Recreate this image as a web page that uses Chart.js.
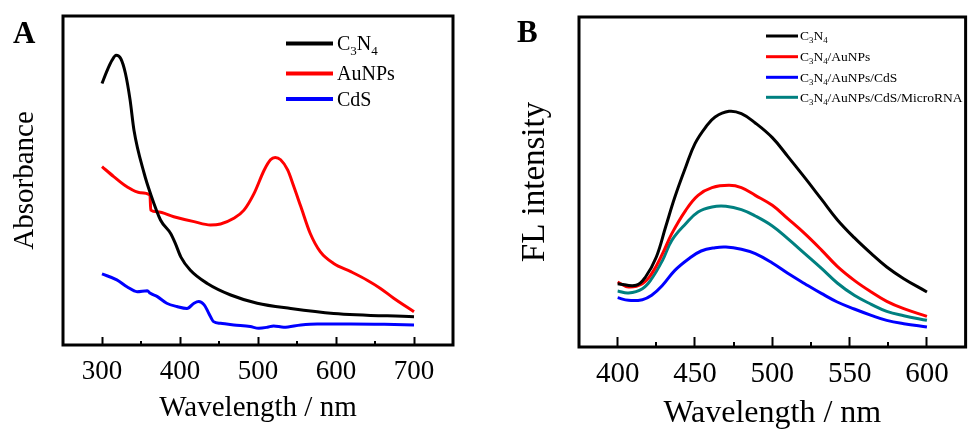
<!DOCTYPE html>
<html>
<head>
<meta charset="utf-8">
<script src="https://cdn.jsdelivr.net/npm/chart.js@4.4.1/dist/chart.umd.min.js"></script>
<style>
    html, body { margin: 0; padding: 0; background: #fff; }
    #wrap { position: relative; width: 969px; height: 433px; }
    .panel { position: absolute; top: 0; height: 433px; }
    #panelA { left: 0; width: 484px; }
    #panelB { left: 484px; width: 485px; }
</style>
</head>
<body>
<div id="wrap">
    <div class="panel" id="panelA"><canvas id="chartA"></canvas></div>
    <div class="panel" id="panelB"><canvas id="chartB"></canvas></div>
</div>
<script>
// Panel A: UV-vis absorbance (a.u.)
const aWaveC3N4 = [300, 306, 313, 318, 324, 330, 336, 341, 354, 362, 375, 388, 394, 401, 413, 435, 465, 499, 542, 597, 700]
const aAbsC3N4 = [0.795, 0.831, 0.866, 0.881, 0.871, 0.826, 0.745, 0.653, 0.522, 0.461, 0.38, 0.339, 0.309, 0.268, 0.228, 0.187, 0.152, 0.127, 0.111, 0.096, 0.086]

const aWaveAu = [300, 315, 332, 349, 361.5, 362.5, 371, 392, 418, 439, 452, 469, 482, 495, 508, 516, 522, 529, 538, 546, 555, 567, 580, 597, 619, 640, 657, 674, 700]
const aAbsAu = [0.542, 0.512, 0.481, 0.463, 0.456, 0.41, 0.405, 0.39, 0.375, 0.365, 0.368, 0.385, 0.41, 0.461, 0.532, 0.563, 0.57, 0.563, 0.532, 0.481, 0.42, 0.339, 0.283, 0.248, 0.223, 0.197, 0.172, 0.142, 0.101]

const aWaveCdS = [300, 319, 332, 345, 358, 362, 371, 383, 396, 409, 418, 424, 431, 437, 443, 452, 469, 490, 501, 512, 520, 533, 555, 576, 619, 662, 700]
const aAbsCdS = [0.216, 0.198, 0.177, 0.162, 0.165, 0.157, 0.147, 0.127, 0.117, 0.111, 0.127, 0.132, 0.122, 0.096, 0.071, 0.066, 0.061, 0.056, 0.051, 0.054, 0.058, 0.054, 0.061, 0.064, 0.064, 0.063, 0.061]

const aTicks = [300, 400, 500, 600, 700]
const aLabels = ['C_3N_4', 'AuNPs', 'CdS']

// Panel B: fluorescence intensity (a.u.)
const bWaveC3N4 = [400, 412, 418, 425, 431, 437, 444, 450, 457, 463, 472, 480, 489, 500, 510, 521, 532, 542, 553, 564, 574, 585, 600]
const bFlC3N4 = [190, 185, 210, 270, 360, 450, 540, 610, 660, 690, 707, 700, 672, 628, 572, 508, 442, 382, 328, 280, 240, 205, 165]

const bWaveAu = [400, 407, 416, 422, 429, 435, 444, 452, 461, 472, 480, 489, 500, 510, 521, 532, 542, 553, 564, 574, 585, 600]
const bFlAu = [195, 180, 190, 220, 280, 340, 410, 455, 478, 485, 478, 455, 425, 385, 340, 290, 242, 200, 165, 137, 115, 92]

const bWaveCdS = [400, 407, 416, 422, 429, 437, 446, 454, 463, 470, 480, 489, 500, 510, 521, 532, 542, 553, 564, 574, 585, 600]
const bFlCdS = [148, 140, 142, 155, 185, 230, 265, 288, 298, 300, 293, 280, 252, 221, 190, 160, 135, 114, 95, 80, 70, 60]

const bWaveRNA = [400, 407, 416, 422, 429, 435, 444, 452, 461, 470, 480, 489, 500, 510, 521, 532, 542, 553, 564, 574, 585, 600]
const bFlRNA = [168, 162, 175, 205, 260, 320, 370, 405, 420, 422, 412, 393, 363, 325, 280, 235, 192, 155, 128, 107, 94, 80]

const bTicks = [400, 450, 500, 550, 600]
const bLabels = ['C_3N_4', 'C_3N_4/AuNPs', 'C_3N_4/AuNPs/CdS', 'C_3N_4/AuNPs/CdS/MicroRNA']

const colors = ['#000000', '#ff0000', '#0000ff', '#008080']
const serif = "'Liberation Serif', 'Times New Roman', serif"

const toPoints = (xs, ys) => xs.map((x, i) => ({ x: x, y: ys[i] }))

// draw text where "_d" means a subscript digit
function drawRich(ctx, str, x, y, size) {
    let cx = x
    for (let i = 0; i < str.length; i++) {
        let ch = str[i]
        if (ch == '_') {
            ch = str[++i]
            ctx.font = `${size * 0.65}px ${serif}`
            ctx.fillText(ch, cx, y + size * 0.22)
        } else {
            ctx.font = `${size}px ${serif}`
            ctx.fillText(ch, cx, y)
        }
        cx += ctx.measureText(ch).width
    }
}

// frame, minor ticks, panel letter and legend
const panelPlugin = {
    id: 'panel',
    afterDraw(chart, args, opts) {
        const ctx = chart.ctx
        const area = chart.chartArea
        const xs = chart.scales.x
        ctx.save()
        ctx.strokeStyle = '#000'
        ctx.fillStyle = '#000'

        // minor ticks between the major ones
        ctx.lineWidth = 2
        const ticks = xs.ticks
        for (let i = 0; i < ticks.length - 1; i++) {
            const px = Math.round(xs.getPixelForValue((ticks[i].value + ticks[i + 1].value) / 2))
            ctx.beginPath()
            ctx.moveTo(px, area.bottom)
            ctx.lineTo(px, area.bottom - opts.minorLen)
            ctx.stroke()
        }

        ctx.lineWidth = 3
        ctx.strokeRect(area.left, area.top, area.right - area.left, area.bottom - area.top)

        ctx.font = `bold ${opts.letterSize}px ${serif}`
        ctx.textBaseline = 'alphabetic'
        ctx.textAlign = 'left'
        ctx.fillText(opts.letter, opts.letterX, opts.letterY)

        const lg = opts.legend
        lg.labels.forEach((label, i) => {
            const y = lg.ys[i]
            ctx.strokeStyle = colors[i]
            ctx.lineWidth = lg.lineWidth
            ctx.beginPath()
            ctx.moveTo(lg.x1, y)
            ctx.lineTo(lg.x2, y)
            ctx.stroke()
            ctx.fillStyle = '#000'
            drawRich(ctx, label, lg.textX, y + lg.size * 0.33, lg.size)
        })
        ctx.restore()
    }
}

function makeChart(id, cfg) {
    const ctx = document.getElementById(id).getContext('2d')
    return new Chart(ctx, {
        type: 'line',
        data: { datasets: cfg.datasets },
        options: {
            responsive: true,
            maintainAspectRatio: false,
            animation: false,
            events: [],
            layout: { padding: cfg.padding },
            elements: {
                point: { radius: 0 },
                line: cfg.line,
            },
            scales: {
                x: {
                    type: 'linear',
                    min: cfg.xMin,
                    max: cfg.xMax,
                    afterBuildTicks: (scale) => {
                        scale.ticks = cfg.ticks.map((v) => ({ value: v }))
                    },
                    grid: {
                        drawOnChartArea: false,
                        tickLength: -cfg.majorLen,
                        tickWidth: 2,
                        tickColor: '#000',
                    },
                    border: { display: false },
                    ticks: {
                        autoSkip: false,
                        maxRotation: 0,
                        color: '#000',
                        padding: cfg.tickPad,
                        font: { family: serif, size: cfg.tickSize },
                    },
                    title: {
                        display: true,
                        text: 'Wavelength / nm',
                        color: '#000',
                        font: { family: serif, size: cfg.xTitleSize },
                        padding: { top: 0, bottom: cfg.xTitlePad },
                    },
                    afterFit: (scale) => { scale.height = cfg.xHeight },
                },
                y: {
                    min: 0,
                    max: cfg.yMax,
                    grid: { display: false },
                    border: { display: false },
                    ticks: { display: false },
                    title: {
                        display: true,
                        text: cfg.yTitle,
                        color: '#000',
                        font: { family: serif, size: cfg.yTitleSize },
                        padding: { top: cfg.yTitlePad, bottom: 0 },
                    },
                    afterFit: (scale) => { scale.width = cfg.yWidth },
                },
            },
            plugins: {
                legend: { display: false },
                tooltip: { enabled: false },
                panel: cfg.panel,
            },
        },
        plugins: [panelPlugin],
    })
}

makeChart('chartA', {
    datasets: [
        { label: 'C3N4', data: toPoints(aWaveC3N4, aAbsC3N4), borderColor: colors[0] },
        { label: 'AuNPs', data: toPoints(aWaveAu, aAbsAu), borderColor: colors[1] },
        { label: 'CdS', data: toPoints(aWaveCdS, aAbsCdS), borderColor: colors[2] },
    ],
    line: { borderWidth: 3, fill: false, cubicInterpolationMode: 'monotone' },
    padding: { left: 0, top: 16, right: 31, bottom: 0 },
    xMin: 250, xMax: 750, ticks: aTicks,
    majorLen: 8, tickPad: 19, tickSize: 27,
    xTitleSize: 29, xTitlePad: 7, xHeight: 88,
    yMax: 1, yTitle: 'Absorbance', yTitleSize: 29, yTitlePad: 8, yWidth: 63,
    panel: {
        minorLen: 4,
        letter: 'A', letterSize: 31, letterX: 13, letterY: 43,
        legend: { labels: aLabels, ys: [43.5, 73.5, 99], x1: 286, x2: 333, textX: 337, size: 20, lineWidth: 4 },
    },
})

makeChart('chartB', {
    datasets: [
        { label: 'C3N4', data: toPoints(bWaveC3N4, bFlC3N4), borderColor: colors[0] },
        { label: 'C3N4/AuNPs', data: toPoints(bWaveAu, bFlAu), borderColor: colors[1] },
        { label: 'C3N4/AuNPs/CdS', data: toPoints(bWaveCdS, bFlCdS), borderColor: colors[2] },
        { label: 'C3N4/AuNPs/CdS/MicroRNA', data: toPoints(bWaveRNA, bFlRNA), borderColor: colors[3] },
    ],
    line: { borderWidth: 3, fill: false, tension: 0.4 },
    padding: { left: 0, top: 17, right: 3, bottom: 0 },
    xMin: 375, xMax: 625, ticks: bTicks,
    majorLen: 10, tickPad: 20, tickSize: 29,
    xTitleSize: 32, xTitlePad: 0, xHeight: 86,
    yMax: 990, yTitle: 'FL intensity', yTitleSize: 33, yTitlePad: 32, yWidth: 95,
    panel: {
        minorLen: 5,
        letter: 'B', letterSize: 31, letterX: 33, letterY: 42,
        legend: { labels: bLabels, ys: [36, 56.7, 77.3, 97.3], x1: 282, x2: 314, textX: 316, size: 13.5, lineWidth: 3 },
    },
})
</script>
</body>
</html>
